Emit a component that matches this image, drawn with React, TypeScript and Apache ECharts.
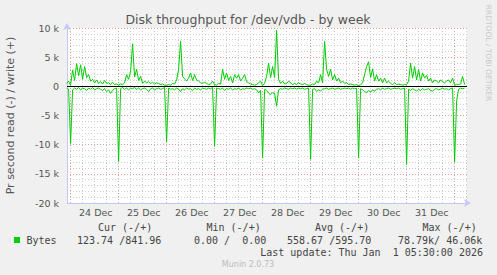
import React, { useEffect, useRef } from "react";
import * as echarts from "echarts";

// Time axis: hours relative to 24 Dec 00:00 (one sample per hour)
const startHour = -2;
const dayLabels = ["24 Dec", "25 Dec", "26 Dec", "27 Dec", "28 Dec", "29 Dec", "30 Dec", "31 Dec"];

// write (+) in thousands of bytes/s
const writePre = [0.5, 0.9];
const write24 = [0.2, 2.8, 1.0, 3.9, 1.8, 3.7, 1.2, 3.4, 1.5, 2.0, 0.9, 1.2, 0.6, 1.1, 0.5, 0.8, 0.4, 1.0, 0.5, 0.6, 0.3, 0.7, 0.3, 0.4];
const write25 = [0.2, 0.4, 0.3, 0.6, 2.0, 1.2, 2.6, 7.3, 1.6, 2.9, 1.0, 1.7, 0.5, 0.9, 0.6, 0.8, 0.5, 0.7, 0.4, 0.6, 0.5, 0.3, 0.4, 0.2];
const write26 = [0.2, 0.3, 0.2, 0.5, 0.4, 1.1, 2.9, 7.7, 1.7, 1.3, 0.9, 1.4, 2.3, 1.0, 2.0, 1.1, 0.9, 0.6, 0.5, 0.7, 0.5, 0.3, 0.4, 0.9];
const write27 = [0.3, 0.2, 0.5, 0.4, 2.9, 1.2, 2.3, 1.0, 1.7, 0.6, 2.0, 1.4, 2.0, 0.9, 1.4, 2.0, 0.8, 0.6, 0.4, 0.3, 0.2, 0.3, 0.6, 0.9];
const write28 = [0.1, 0.5, 1.7, 4.0, 1.5, 3.4, 1.5, 9.6, 1.2, 0.5, 0.9, 0.4, 0.5, 0.9, 0.6, 0.3, 0.5, 0.3, 0.6, 0.4, 0.3, 0.5, 0.3, 0.2];
const write29 = [0.2, 0.4, 0.3, 0.9, 0.6, 2.0, 0.6, 7.7, 2.9, 1.7, 2.9, 1.1, 2.0, 0.9, 1.4, 0.6, 0.9, 0.5, 0.6, 0.3, 0.4, 0.3, 0.2, 0.3];
const write30 = [0.1, 0.3, 0.6, 2.0, 3.4, 4.2, 1.5, 3.0, 0.9, 2.0, 0.9, 1.4, 0.6, 1.4, 0.6, 0.9, 0.5, 0.3, 0.6, 0.3, 0.4, 0.3, 0.2, 0.3];
const write31 = [0.3, 0.9, 4.0, 1.4, 3.4, 1.1, 2.9, 0.9, 2.3, 1.4, 1.9, 0.9, 1.4, 0.6, 1.1, 0.9, 0.6, 1.1, 0.8, 0.6, 0.9, 1.1, 0.6, 1.4];
const write01 = [0.2, 0.3, 0.3, 0.4, 1.7, 0.3];

// read (-) in thousands of bytes/s
const readPre = [-0.3, -0.5];
const read24 = [-9.8, -0.6, -0.3, -0.5, -0.2, -0.6, -0.3, -0.4, -0.7, -0.3, -0.5, -0.2, -0.6, -0.4, -0.3, -0.5, -0.7, -0.4, -0.9, -0.6, -1.2, -0.7, -0.4, -0.3];
const read25 = [-12.9, -0.4, -0.2, -0.5, -0.3, -0.6, -0.3, -0.4, -0.2, -0.5, -0.3, -0.6, -0.4, -0.3, -0.5, -0.9, -0.4, -0.3, -0.6, -0.4, -0.3, -0.5, -0.4, -0.2];
const read26 = [-9.5, -0.3, -0.5, -0.4, -0.6, -0.3, -0.5, -0.9, -0.4, -0.6, -0.3, -0.5, -0.4, -0.7, -0.3, -0.5, -0.4, -0.6, -0.3, -0.4, -0.5, -0.3, -0.4, -0.2];
const read27 = [-10.3, -0.3, -0.4, -0.5, -0.3, -0.7, -0.4, -0.5, -0.3, -0.6, -0.4, -0.5, -0.3, -0.6, -0.4, -0.5, -0.3, -0.4, -0.3, -0.5, -0.4, -0.6, -1.1, -0.7];
const read28 = [-12.3, -0.5, -0.7, -1.2, -1.4, -1.1, -1.2, -3.4, -0.6, -0.4, -0.5, -0.3, -0.4, -0.5, -0.3, -0.4, -0.3, -0.5, -0.3, -0.4, -0.3, -0.5, -0.4, -0.3];
const read29 = [-12.5, -0.5, -0.4, -0.9, -0.6, -0.8, -0.5, -0.4, -0.3, -0.5, -0.4, -0.3, -0.5, -0.4, -0.3, -0.5, -0.4, -0.3, -0.4, -0.3, -0.5, -0.3, -0.4, -0.3];
const read30 = [-12.3, -0.4, -0.6, -0.9, -1.1, -0.7, -1.0, -0.6, -0.8, -0.5, -0.4, -0.6, -0.3, -0.5, -0.4, -0.3, -0.5, -0.4, -0.3, -0.4, -0.3, -0.5, -0.4, -0.3];
const read31 = [-13.4, -0.5, -0.7, -0.4, -0.6, -0.8, -0.5, -0.7, -0.4, -0.6, -0.5, -0.4, -0.7, -0.8, -0.5, -0.4, -0.6, -0.5, -0.3, -0.5, -0.4, -0.6, -0.4, -0.3];
const read01 = [-13.0, -2.5, -0.5, -0.3, -0.4, -0.3];

const legendHeaders = ["Cur (-/+)", "Min (-/+)", "Avg (-/+)", "Max (-/+)"];
const legendValues = ["123.74 /841.96", "0.00 /  0.00", "558.67 /595.70", "78.79k/ 46.06k"];
const seriesName = "Bytes";
const lastUpdate = "Last update: Thu Jan  1 05:30:00 2026";

const writeK = [...writePre, ...write24, ...write25, ...write26, ...write27, ...write28, ...write29, ...write30, ...write31, ...write01];
const readK = [...readPre, ...read24, ...read25, ...read26, ...read27, ...read28, ...read29, ...read30, ...read31, ...read01];

const GREEN = "#00cc00";
const AXIS = "#c4c8f4";
const MAJOR = "#e4a0a0";
const MINOR = "#cfcfcf";
const TEXT = "#555555";
const SANS = "DejaVu Sans";
const MONO = "DejaVu Sans Mono";

const xMin = -1.8;
const xMax = 198.2;

export default function App() {
  const ref = useRef<HTMLDivElement>(null);
  useEffect(() => {
    if (!ref.current) return;
    const chart = echarts.init(ref.current, undefined, { renderer: "svg" });

    const writeData = writeK.map((v, i) => [startHour + i, v]);
    const readData = readK.map((v, i) => [startHour + i, v]);
    const dayTicks = dayLabels.map((_, i) => i * 24).concat([dayLabels.length * 24]);
    const noonTicks = dayLabels.map((_, i) => i * 24 + 12.6);
    const sixHour: number[] = [];
    for (let h = 6; h < xMax; h += 6) if (h % 24 !== 0) sixHour.push(h);

    const legendHeaderX = [98, 206.5, 315, 422.5];
    const legendValueX = [77, 194, 287, 398];

    const graphic: any[] = [
      {
        type: "text", x: 248, y: 19,
        style: { text: "Disk throughput for /dev/vdb - by week", fill: TEXT, fontSize: 12.5, fontFamily: SANS, align: "center", verticalAlign: "middle" },
      },
      {
        type: "text", x: 10.5, y: 115.5, rotation: Math.PI / 2,
        style: { text: "Pr second read (-) / write (+)", fill: TEXT, fontSize: 11, fontFamily: SANS, align: "center", verticalAlign: "middle" },
      },
      {
        type: "text", x: 488, y: 53, rotation: -Math.PI / 2,
        style: { text: "RRDTOOL / TOBI OETIKER", fill: "#c8c8c8", fontSize: 7.5, fontFamily: SANS, align: "center", verticalAlign: "middle" },
      },
      { type: "rect", shape: { x: 14, y: 237, width: 6, height: 6 }, style: { fill: GREEN } },
      {
        type: "text", x: 26.5, y: 240,
        style: { text: seriesName, fill: "#444", fontSize: 10, fontFamily: MONO, align: "left", verticalAlign: "middle" },
      },
      {
        type: "text", x: 483, y: 252,
        style: { text: lastUpdate, fill: "#444", fontSize: 10, fontFamily: MONO, align: "right", verticalAlign: "middle" },
      },
      {
        type: "text", x: 248, y: 264,
        style: { text: "Munin 2.0.73", fill: "#bbbbbb", fontSize: 8, fontFamily: SANS, align: "center", verticalAlign: "middle" },
      },
    ];
    legendHeaders.forEach((t, i) =>
      graphic.push({
        type: "text", x: legendHeaderX[i], y: 227.5,
        style: { text: t, fill: "#444", fontSize: 10, fontFamily: MONO, align: "left", verticalAlign: "middle" },
      })
    );
    legendValues.forEach((t, i) =>
      graphic.push({
        type: "text", x: legendValueX[i], y: 240,
        style: { text: t, fill: "#444", fontSize: 10, fontFamily: MONO, align: "left", verticalAlign: "middle" },
      })
    );

    const option: any = {
      animation: false,
      backgroundColor: "#f0f0f0",
      textStyle: { fontFamily: SANS },
      grid: { left: 67, right: 30, top: 28, bottom: 72, show: true, backgroundColor: "#ffffff", borderWidth: 0 },
      xAxis: [
        {
          type: "value", min: xMin, max: xMax, position: "bottom", z: 1,
          axisLine: { show: true, onZero: false, lineStyle: { color: AXIS, width: 1 }, symbol: ["none", "arrow"], symbolSize: [6, 7], symbolOffset: [0, 4] },
          axisTick: { show: false, customValues: dayTicks },
          axisLabel: {
            show: true, customValues: noonTicks, color: TEXT, fontSize: 9.5, fontFamily: SANS, margin: 4,
            formatter: (v: number) => dayLabels[Math.round((v - 12.6) / 24)] ?? "",
          },
          splitLine: { show: true, lineStyle: { color: MAJOR, width: 1, type: [1, 2] } },
        },
        {
          type: "value", min: xMin, max: xMax, position: "top", z: 0,
          axisLine: { show: false },
          axisTick: { show: false, customValues: sixHour },
          axisLabel: { show: false },
          splitLine: { show: true, lineStyle: { color: MINOR, width: 1, type: [1, 2] } },
        },
      ],
      yAxis: [
        {
          type: "value", min: -20, max: 10, interval: 5, position: "left", z: 1,
          axisLine: { show: true, onZero: false, lineStyle: { color: AXIS, width: 1 }, symbol: ["none", "arrow"], symbolSize: [6, 7], symbolOffset: [0, 5] },
          axisTick: { show: false },
          axisLabel: { color: TEXT, fontSize: 9.5, fontFamily: SANS, margin: 8, formatter: (v: number) => (v === 0 ? "0" : `${v} k`) },
          splitLine: { show: true, lineStyle: { color: MAJOR, width: 1, type: [1, 2] } },
        },
        {
          type: "value", min: -20, max: 10, interval: 1, position: "right", z: 0,
          axisLine: { show: false }, axisTick: { show: false }, axisLabel: { show: false },
          splitLine: { show: true, lineStyle: { color: MINOR, width: 1, type: [1, 2] } },
        },
      ],
      series: [
        {
          type: "line", name: "read", xAxisIndex: 0, yAxisIndex: 0, data: readData,
          showSymbol: false, symbol: "none", lineStyle: { color: GREEN, width: 1 }, itemStyle: { color: GREEN }, z: 3,
        },
        {
          type: "line", name: "write", xAxisIndex: 0, yAxisIndex: 0, data: writeData,
          showSymbol: false, symbol: "none", lineStyle: { color: GREEN, width: 1 }, itemStyle: { color: GREEN }, z: 3,
          markLine: {
            silent: true, symbol: ["none", "none"], label: { show: false }, animation: false,
            lineStyle: { color: "#000000", width: 1, type: "solid" },
            data: [{ yAxis: 0 }],
          },
        },
      ],
      graphic,
    };
    chart.setOption(option);
    return () => chart.dispose();
  }, []);

  return <div ref={ref} style={{ position: "fixed", left: 0, top: 0, width: 497, height: 275 }} />;
}
